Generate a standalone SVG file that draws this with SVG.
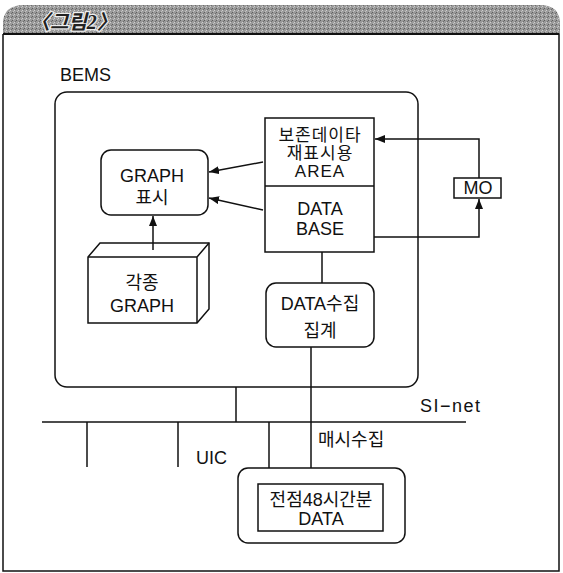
<svg xmlns="http://www.w3.org/2000/svg" width="563" height="573" viewBox="0 0 563 573">
<defs>
<pattern id="tex" width="4" height="4" patternUnits="userSpaceOnUse">
<rect width="4" height="4" fill="#9a9a9a"/>
<rect x="0" y="0" width="1" height="1" fill="#5e5e5e"/>
<rect x="2" y="2" width="1" height="1" fill="#cfcfcf"/>
<rect x="3" y="1" width="1" height="1" fill="#6e6e6e"/>
<rect x="1" y="3" width="1" height="1" fill="#c0c0c0"/>
</pattern>
<marker id="ah" viewBox="0 0 10 8" refX="10" refY="4" markerWidth="10" markerHeight="8" markerUnits="userSpaceOnUse" orient="auto">
<path d="M0,0 L10,4 L0,8 Z" fill="#111"/>
</marker>
</defs>
<style>
.ln{fill:none;stroke:#111;stroke-width:1.5}
.bx{fill:#fff;stroke:#111;stroke-width:1.5}
.t{font-family:"Liberation Sans","Noto Sans CJK KR",sans-serif;font-size:18px;fill:#111;text-anchor:middle}
.tl{font-family:"Liberation Sans","Noto Sans CJK KR",sans-serif;font-size:18px;fill:#111}
.s{font-size:17px;letter-spacing:1px}
</style>
<rect width="563" height="573" fill="#fff"/>
<g id="header">
<path d="M3,34 L3,24 Q3,5 24,5 L540,5 Q560,5 560,24 L560,34 Z" fill="url(#tex)"/>
<text x="30" y="29" font-family="'Liberation Serif','Noto Sans CJK KR',serif" font-size="20" font-weight="bold" font-style="italic" fill="#222" stroke="#eee" stroke-width="2.5" paint-order="stroke">〈그림2〉</text>
</g>
<g id="frame">
<path d="M3,34 L3,571 L559,571 L559,34" class="ln"/>
<line x1="3" y1="34" x2="559" y2="34" stroke="#111" stroke-width="2"/>
</g>
<g id="bems">
<text class="tl" x="60" y="81" font-size="17">BEMS</text>
<rect class="ln" x="55" y="92" width="363" height="295" rx="12"/>
</g>
<g id="graph-display">
<rect class="bx" x="101" y="150" width="107" height="65" rx="10"/>
<text class="t" x="152" y="182">GRAPH</text>
<text class="t" x="152" y="204">표시</text>
</g>
<g id="graphs">
<path class="bx" d="M88,257 L100,243 L209,243 L209,309 L197,323 L88,323 Z"/>
<path class="ln" d="M88,257 L197,257 L209,243 M197,257 L197,323"/>
<text class="t" x="142" y="289">각종</text>
<text class="t" x="142" y="312">GRAPH</text>
</g>
<g id="storage">
<rect class="bx" x="265" y="118" width="109" height="134"/>
<line class="ln" x1="265" y1="186" x2="374" y2="186"/>
<text class="t s" x="320" y="141">보존데이타</text>
<text class="t s" x="320" y="159">재표시용</text>
<text class="t s" x="320" y="177">AREA</text>
<text class="t" x="320" y="215">DATA</text>
<text class="t" x="320" y="235">BASE</text>
</g>
<g id="mo">
<rect class="bx" x="454" y="178" width="47" height="20"/>
<text class="t" x="478" y="194" font-size="17">MO</text>
</g>
<g id="collect">
<rect class="bx" x="266" y="283" width="108" height="64" rx="10"/>
<text class="t" x="320" y="310">DATA수집</text>
<text class="t" x="320" y="337">집계</text>
</g>
<g id="data48">
<rect class="bx" x="238" y="468" width="167" height="75" rx="10"/>
<rect class="bx" x="258" y="484" width="125" height="47"/>
<text class="t" x="321" y="506">전점48시간분</text>
<text class="t" x="321" y="525">DATA</text>
</g>
<g id="connectors">
<line class="ln" x1="153" y1="250" x2="153" y2="216" marker-end="url(#ah)"/>
<line class="ln" x1="263" y1="162" x2="209" y2="172" marker-end="url(#ah)"/>
<line class="ln" x1="263" y1="210" x2="209" y2="198" marker-end="url(#ah)"/>
<path class="ln" d="M479,178 L479,139 L375,139" marker-end="url(#ah)"/>
<path class="ln" d="M374,237 L479,237 L479,199" marker-end="url(#ah)"/>
<line class="ln" x1="322" y1="252" x2="322" y2="283"/>
<line class="ln" x1="311" y1="347" x2="311" y2="468"/>
<line class="ln" x1="236" y1="387" x2="236" y2="422"/>
<line class="ln" x1="42" y1="422" x2="466" y2="422"/>
<line class="ln" x1="87" y1="422" x2="87" y2="467"/>
<line class="ln" x1="178" y1="422" x2="178" y2="467"/>
<line class="ln" x1="269" y1="422" x2="269" y2="468"/>
</g>
<g id="labels">
<text class="tl" x="420" y="412" letter-spacing="1.5">SI−net</text>
<text class="tl" x="196" y="464">UIC</text>
<text class="tl" x="318" y="446">매시수집</text>
</g>
</svg>
